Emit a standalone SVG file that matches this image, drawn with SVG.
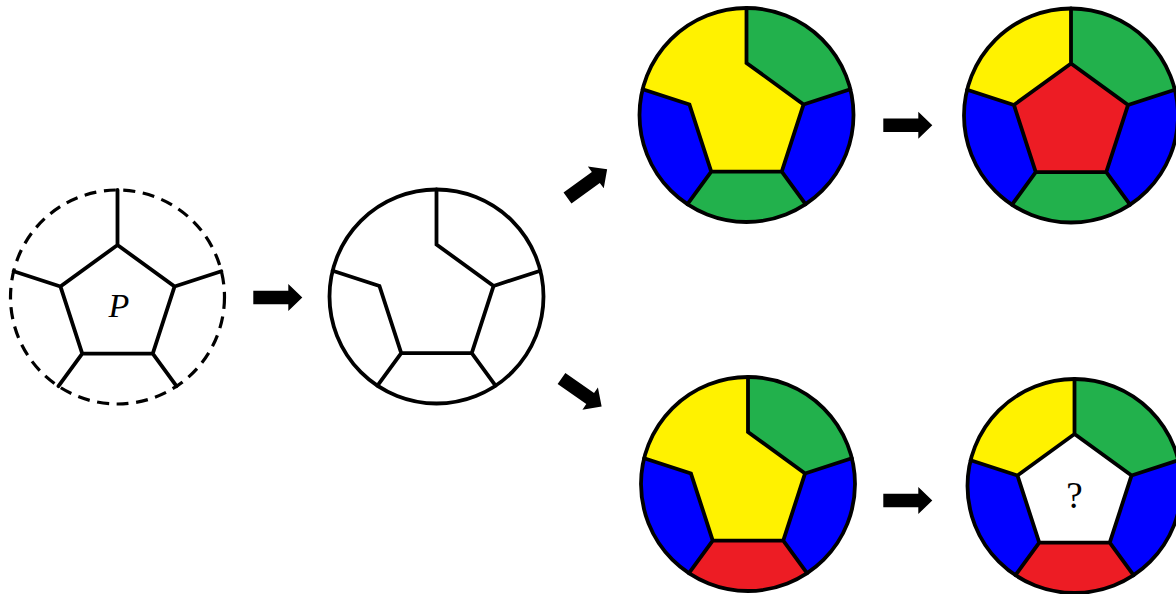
<svg xmlns="http://www.w3.org/2000/svg" xmlns:xlink="http://www.w3.org/1999/xlink" width="1176" height="594" viewBox="0 0 1176 594">
  <style>
    .y { fill: #FFF200; }
    .g { fill: #22B14C; }
    .b { fill: #0000FF; }
    .r { fill: #ED1C24; }
    .w { fill: #FFFFFF; }
    .ln { fill: none; stroke: #000; stroke-width: 3.8; stroke-linecap: round; stroke-linejoin: miter; }
    .rim { fill: none; stroke: #000; stroke-width: 3.8; }
    .rim-dash { fill: none; stroke: #000; stroke-width: 3.2; stroke-dasharray: 12 7.6; }
    .lbl { font-family: "Liberation Serif", "DejaVu Serif", serif; fill: #000; text-anchor: middle; }
    .arrow { fill: #000; }
  </style>
  <defs>
    <!-- regions of a disc split by a centred pentagon and five spokes; pentagon centre at 0,0, disc centre at 0,-8 -->
    <path id="rTR" d="M0,-60 L0,-115 A107,107 0 0 1 103.85,-33.74 L57.06,-18.54 Z"/>
    <path id="rR" d="M57.06,-18.54 L103.85,-33.74 A107,107 0 0 1 59.03,81.24 L35.27,48.54 Z"/>
    <path id="rB" d="M35.27,48.54 L59.03,81.24 A107,107 0 0 1 -59.03,81.24 L-35.27,48.54 Z"/>
    <path id="rL" d="M-35.27,48.54 L-59.03,81.24 A107,107 0 0 1 -103.85,-33.74 L-57.06,-18.54 Z"/>
    <path id="rTL" d="M-57.06,-18.54 L-103.85,-33.74 A107,107 0 0 1 0,-115 L0,-60 Z"/>
    <path id="pent" d="M0,-60 L57.06,-18.54 L35.27,48.54 L-35.27,48.54 L-57.06,-18.54 Z"/>
    <!-- upper-left region and pentagon as one area -->
    <path id="rTLP" d="M-57.06,-18.54 L-103.85,-33.74 A107,107 0 0 1 0,-115 L0,-60 L57.06,-18.54 L35.27,48.54 L-35.27,48.54 Z"/>
    <!-- line work: spokes plus all pentagon edges -->
    <path id="linesFull" d="M0,-60 V-115 M57.06,-18.54 L103.85,-33.74 M35.27,48.54 L59.03,81.24 M-35.27,48.54 L-59.03,81.24 M-57.06,-18.54 L-103.85,-33.74 M0,-60 L57.06,-18.54 L35.27,48.54 L-35.27,48.54 L-57.06,-18.54 Z"/>
    <!-- line work with the upper-left pentagon edge left out -->
    <path id="linesOpen" d="M0,-115 V-60 L57.06,-18.54 L35.27,48.54 L-35.27,48.54 L-57.06,-18.54 L-103.85,-33.74 M57.06,-18.54 L103.85,-33.74 M35.27,48.54 L59.03,81.24 M-35.27,48.54 L-59.03,81.24"/>
    <path id="arrowShape" d="M0,-6.75 H35 V-13.5 L49,0 L35,13.5 V6.75 H0 Z"/>
  </defs>

  <!-- dashed disc with labelled pentagon -->
  <g id="node-p" transform="translate(117.5,305)">
    <circle class="rim-dash" cx="0" cy="-8" r="107"/>
    <use xlink:href="#linesFull" class="ln"/>
    <text class="lbl" x="1.5" y="12" font-size="34" font-style="italic">P</text>
  </g>

  <!-- plain disc, pentagon opened on the upper left -->
  <g id="node-outline" transform="translate(436.5,304.5)">
    <circle class="rim" cx="0" cy="-8" r="107"/>
    <use xlink:href="#linesOpen" class="ln"/>
  </g>

  <!-- upper branch: first colouring -->
  <g id="node-top-a" transform="translate(746.5,123)">
    <use xlink:href="#rTLP" class="y"/>
    <use xlink:href="#rTR" class="g"/>
    <use xlink:href="#rR" class="b"/>
    <use xlink:href="#rB" class="g"/>
    <use xlink:href="#rL" class="b"/>
    <use xlink:href="#linesOpen" class="ln"/>
    <circle class="rim" cx="0" cy="-8" r="107"/>
  </g>

  <!-- upper branch: result with red pentagon -->
  <g id="node-top-b" transform="translate(1071,123.5)">
    <use xlink:href="#rTL" class="y"/>
    <use xlink:href="#pent" class="r"/>
    <use xlink:href="#rTR" class="g"/>
    <use xlink:href="#rR" class="b"/>
    <use xlink:href="#rB" class="g"/>
    <use xlink:href="#rL" class="b"/>
    <use xlink:href="#linesFull" class="ln"/>
    <circle class="rim" cx="0" cy="-8" r="107"/>
  </g>

  <!-- lower branch: second colouring -->
  <g id="node-bottom-a" transform="translate(748,492)">
    <use xlink:href="#rTLP" class="y"/>
    <use xlink:href="#rTR" class="g"/>
    <use xlink:href="#rR" class="b"/>
    <use xlink:href="#rB" class="r"/>
    <use xlink:href="#rL" class="b"/>
    <use xlink:href="#linesOpen" class="ln"/>
    <circle class="rim" cx="0" cy="-8" r="107"/>
  </g>

  <!-- lower branch: pentagon left open with a question mark -->
  <g id="node-bottom-b" transform="translate(1074.5,494)">
    <use xlink:href="#rTL" class="y"/>
    <use xlink:href="#pent" class="w"/>
    <use xlink:href="#rTR" class="g"/>
    <use xlink:href="#rR" class="b"/>
    <use xlink:href="#rB" class="r"/>
    <use xlink:href="#rL" class="b"/>
    <use xlink:href="#linesFull" class="ln"/>
    <circle class="rim" cx="0" cy="-8" r="107"/>
    <text class="lbl" x="0" y="14" font-size="37">?</text>
  </g>

  <!-- block arrows between the steps -->
  <g id="connectors">
    <use xlink:href="#arrowShape" class="arrow" transform="translate(253.3,297.5)"/>
    <use xlink:href="#arrowShape" class="arrow" transform="translate(567.5,198) rotate(-36)"/>
    <use xlink:href="#arrowShape" class="arrow" transform="translate(561.5,378.5) rotate(35)"/>
    <use xlink:href="#arrowShape" class="arrow" transform="translate(883.3,125.3)"/>
    <use xlink:href="#arrowShape" class="arrow" transform="translate(883.3,500.5)"/>
  </g>
</svg>
